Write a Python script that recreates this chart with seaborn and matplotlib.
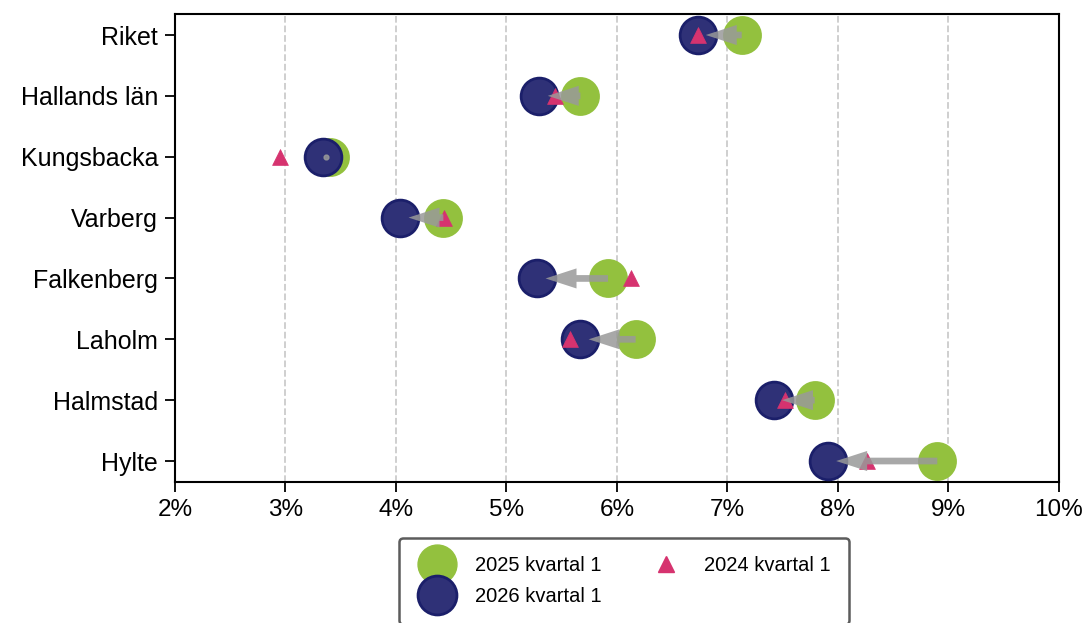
import numpy as np
import pandas as pd
import matplotlib
matplotlib.use('Agg')
import matplotlib.pyplot as plt
from matplotlib.lines import Line2D
from matplotlib.ticker import FuncFormatter
import seaborn as sns

# Andel (%) per område
omraden = ['Riket', 'Hallands län', 'Kungsbacka', 'Varberg',
           'Falkenberg', 'Laholm', 'Halmstad', 'Hylte']
kv1_2025 = [7.13, 5.67, 3.40, 4.43, 5.92, 6.17, 7.79, 8.90]
kv1_2026 = [6.73, 5.30, 3.34, 4.04, 5.28, 5.67, 7.42, 7.91]
kv1_2024 = [6.73, 5.44, 2.95, 4.44, 6.13, 5.58, 7.52, 8.26]

green = '#93c13e'
navy = '#2f3177'
navy_edge = '#1b1f6a'
pink = '#d6336f'

df = pd.DataFrame({'omrade': omraden, 'pos': np.arange(len(omraden)),
                   'y2025': kv1_2025, 'y2026': kv1_2026, 'y2024': kv1_2024})

sns.set_style('white')
plt.rcParams['font.family'] = ['Liberation Sans', 'DejaVu Sans']

fig = plt.figure(figsize=(10.86, 6.23), dpi=100)
ax = fig.add_axes([0.161, 0.2263, 0.814, 0.7512])

for x in range(3, 10):
    ax.axvline(x, color='#cccccc', linestyle='--', linewidth=1.3, zorder=0)

sns.scatterplot(data=df, x='y2025', y='pos', s=700, color=green,
                edgecolor=green, linewidth=1.5, ax=ax, zorder=2)
sns.scatterplot(data=df, x='y2026', y='pos', s=700, color=navy,
                edgecolor=navy_edge, linewidth=2, ax=ax, zorder=3)
sns.scatterplot(data=df, x='y2024', y='pos', s=130, marker='^', color=pink,
                edgecolor=pink, linewidth=0.5, ax=ax, zorder=4)

# pilar från 2025 till 2026
gap = 0.075
for _, r in df.iterrows():
    d = r['y2026'] - r['y2025']
    if abs(d) > gap + 0.05:
        dx = d - np.sign(d) * gap
        ax.arrow(r['y2025'], r['pos'], dx, 0, width=0.11, head_width=0.33,
                 head_length=min(0.28, abs(dx)), length_includes_head=True,
                 color='#999999', alpha=0.85, linewidth=0, zorder=5)
    else:
        ax.scatter((r['y2025'] + r['y2026']) / 2, r['pos'], s=12,
                   color='#999999', alpha=0.85, zorder=5)

ax.set_xlim(2, 10)
ax.set_ylim(len(omraden) - 1 + 0.345, -0.345)
ax.set_xticks(range(2, 11))
ax.xaxis.set_major_formatter(FuncFormatter(lambda v, p: f'{v:.0f}%'))
ax.set_yticks(df['pos'])
ax.set_yticklabels(omraden)
ax.set_xlabel('')
ax.set_ylabel('')
ax.tick_params(axis='both', labelsize=17.5, length=7, width=1.3,
               direction='out', left=True, bottom=True, colors='black', pad=5)
ax.tick_params(axis='y', labelsize=18)
for sp in ax.spines.values():
    sp.set_color('black')
    sp.set_linewidth(1.5)

handles = [
    Line2D([], [], marker='o', linestyle='', markersize=28,
           markerfacecolor=green, markeredgecolor=green),
    Line2D([], [], marker='o', linestyle='', markersize=28,
           markerfacecolor=navy, markeredgecolor=navy_edge, markeredgewidth=2),
    Line2D([], [], marker='^', linestyle='', markersize=11,
           markerfacecolor=pink, markeredgecolor=pink),
]
labels = ['2025 kvartal 1', '2026 kvartal 1', '2024 kvartal 1']
leg = ax.legend(handles, labels, loc='upper center', bbox_to_anchor=(0.508, -0.098),
                ncol=2, fontsize=14.5, frameon=True, fancybox=True,
                edgecolor='#333333', labelspacing=0.6, columnspacing=2.2,
                handletextpad=0.9, borderpad=0.9, labelcolor='black')
leg.get_frame().set_linewidth(1.8)

fig.savefig('out.png', dpi=100)
